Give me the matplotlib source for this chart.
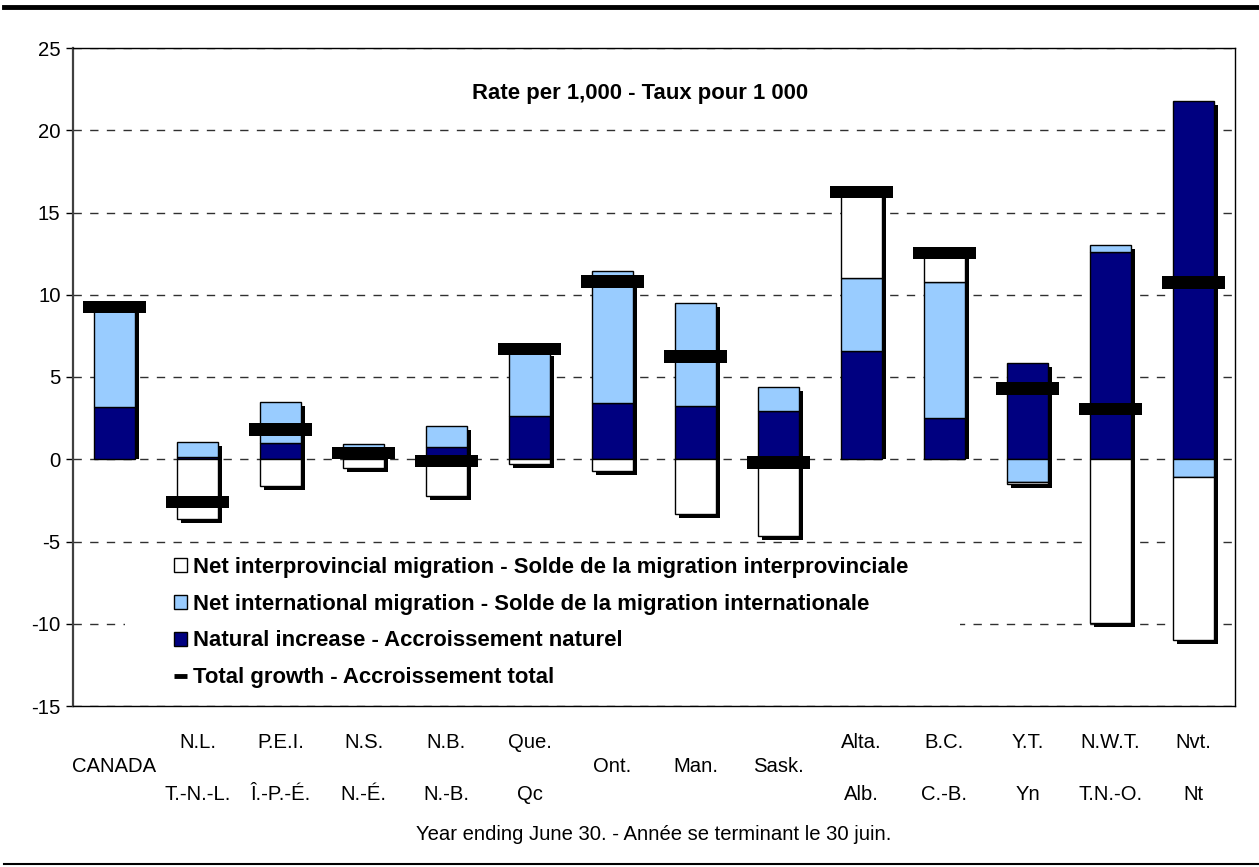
import numpy as np
import matplotlib.pyplot as plt
from matplotlib import transforms
from matplotlib.patches import Patch, Rectangle
from matplotlib.lines import Line2D

plt.rcParams['font.family'] = ['Liberation Sans', 'DejaVu Sans']
plt.rcParams['axes.unicode_minus'] = False

# labels: upper row (English), middle row, lower row (French)
lab_top = ['', 'N.L.', 'P.E.I.', 'N.S.', 'N.B.', 'Que.', '', '', '', 'Alta.', 'B.C.', 'Y.T.', 'N.W.T.', 'Nvt.']
lab_mid = ['CANADA', '', '', '', '', '', 'Ont.', 'Man.', 'Sask.', '', '', '', '', '']
lab_bot = ['', 'T.-N.-L.', 'Î.-P.-É.', 'N.-É.', 'N.-B.', 'Qc', '', '', '', 'Alb.', 'C.-B.', 'Yn', 'T.N.-O.', 'Nt']

# rates per 1,000
natural = [3.2, 0.15, 1.0, 0.05, 0.75, 2.6, 3.4, 3.25, 2.95, 6.6, 2.5, 5.85, 12.6, 21.8]
international = [6.0, 0.9, 2.45, 0.85, 1.3, 3.95, 8.05, 6.25, 1.45, 4.4, 8.25, -1.4, 0.4, -1.05]
interprovincial = [0.0, -3.65, -1.65, -0.55, -2.25, -0.3, -0.7, -3.3, -4.65, 5.1, 1.7, -0.1, -9.95, -9.95]
total = [9.25, -2.6, 1.8, 0.4, -0.1, 6.7, 10.8, 6.25, -0.2, 16.25, 12.55, 4.3, 3.05, 10.75]

series = [natural, international, interprovincial]
colors = ['#000080', '#99CCFF', 'white']

W, H = 1259, 867
fig = plt.figure(figsize=(W / 100, H / 100), dpi=100)
ax = fig.add_axes([73 / W, 1 - 706 / H, (1235 - 73) / W, (706 - 48) / H])

x = np.arange(len(natural))
pos = np.zeros(len(x))
neg = np.zeros(len(x))
for vals, c in zip(series, colors):
    v = np.array(vals)
    bottom = np.where(v >= 0, pos, neg)
    ax.bar(x, v, bottom=bottom, width=0.5, color=c, edgecolor='black', linewidth=1, zorder=3)
    pos = pos + np.clip(v, 0, None)
    neg = neg + np.clip(v, None, 0)
lo, hi = neg, pos

# drop shadow behind each stack
shadow = transforms.offset_copy(ax.transData, fig=fig, x=4, y=-4, units='dots')
sh_bottom = np.where(lo < 0, lo, lo + 0.25)
ax.bar(x, hi - sh_bottom, bottom=sh_bottom, width=0.5, color='black', zorder=2, transform=shadow)

# total growth markers
ax.bar(x, 0.75, bottom=np.array(total) - 0.375, width=0.77, color='black', zorder=5)

ax.set_xlim(-0.5, len(x) - 0.5)
ax.set_ylim(-15, 25)
ax.set_yticks(range(-15, 26, 5))
ax.set_xticks([])
ax.tick_params(axis='y', length=5, width=1, labelsize=14.6, pad=4)
ax.set_axisbelow(True)
ax.yaxis.grid(True, color='#303030', linewidth=1, dashes=(6, 6))
for s in ax.spines.values():
    s.set_linewidth(1)
    s.set_color('black')
ax.spines['left'].set_color('#404040')
ax.spines['left'].set_linewidth(1.6)

# white box behind legend hides the gridline
ax.add_patch(Rectangle((125 / W, 1 - 700 / H), (960 - 125) / W, 150 / H,
                       transform=fig.transFigure, facecolor='white', edgecolor='none', zorder=1))

fig.text(640 / W, 1 - 94 / H, 'Rate per 1,000 - Taux pour 1 000', ha='center', va='center',
         fontsize=15.9, fontweight='bold')

# category labels
tr = transforms.blended_transform_factory(ax.transData, fig.transFigure)
for i in x:
    ax.text(i, 1 - 743 / H, lab_top[i], transform=tr, ha='center', va='center', fontsize=14.6)
    ax.text(i, 1 - 767 / H, lab_mid[i], transform=tr, ha='center', va='center', fontsize=14.6)
    ax.text(i, 1 - 794 / H, lab_bot[i], transform=tr, ha='center', va='center', fontsize=14.6)

fig.text(654 / W, 1 - 834 / H, 'Year ending June 30. - Année se terminant le 30 juin.',
         ha='center', va='center', fontsize=14.6)

handles = [Patch(facecolor='white', edgecolor='black', linewidth=1),
           Patch(facecolor='#99CCFF', edgecolor='black', linewidth=1),
           Patch(facecolor='#000080', edgecolor='black', linewidth=1),
           Line2D([], [], color='black', linewidth=3.5, solid_capstyle='butt')]
labels = ['Net interprovincial migration - Solde de la migration interprovinciale',
          'Net international migration - Solde de la migration internationale',
          'Natural increase - Accroissement naturel',
          'Total growth - Accroissement total']
ax.legend(handles, labels, loc='upper left', bbox_to_anchor=(174 / W, 1 - 557 / H),
          bbox_transform=fig.transFigure, frameon=False, borderpad=0, borderaxespad=0,
          handlelength=0.6, handleheight=0.6, handletextpad=0.28, labelspacing=0.71,
          prop={'size': 15.9, 'weight': 'bold'})

fig.add_artist(Line2D([4 / W, 1], [1 - 7 / H, 1 - 7 / H], color='black', linewidth=3.5,
                      transform=fig.transFigure))
fig.add_artist(Line2D([4 / W, 1], [1 - 864 / H, 1 - 864 / H], color='black', linewidth=1.5,
                      transform=fig.transFigure))

fig.savefig('out.png', dpi=100)
